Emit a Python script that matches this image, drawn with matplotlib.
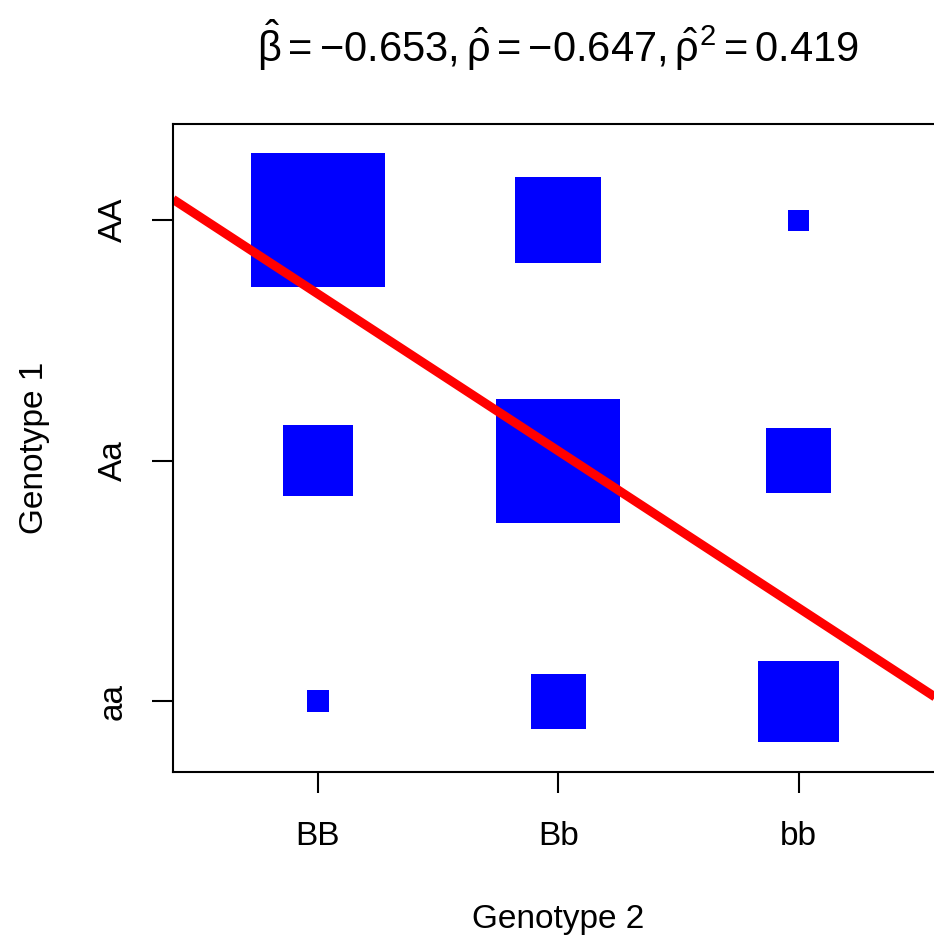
import matplotlib
matplotlib.use("Agg")
import matplotlib.pyplot as plt
from matplotlib.patches import Rectangle

plt.rcParams['font.family'] = ['Liberation Sans', 'DejaVu Sans']
plt.rcParams['mathtext.fontset'] = 'custom'
plt.rcParams['mathtext.rm'] = 'Liberation Sans'
plt.rcParams['mathtext.it'] = 'Liberation Sans'
plt.rcParams['mathtext.bf'] = 'Liberation Sans'

# genotype categories
geno2 = ['BB', 'Bb', 'bb']   # x axis
geno1 = ['aa', 'Aa', 'AA']   # y axis, bottom to top

# square side lengths (data units), rows follow geno1, columns geno2
side_aa = [0.091, 0.229, 0.337]
side_Aa = [0.295, 0.516, 0.270]
side_AA = [0.557, 0.358, 0.087]

# fitted line
beta = -0.653
intercept = 1.693

fig = plt.figure(figsize=(9.34, 9.39), dpi=100)
ax = fig.add_axes([173/934, 167/939, 770/934, 648/939])

rows = [side_aa, side_Aa, side_AA]
for yi, row in enumerate(rows):
    for xi, s in enumerate(row):
        ax.add_patch(Rectangle((xi - s/2, yi - s/2), s, s,
                               facecolor='#0000ff', edgecolor='none'))

ax.axline((0, intercept), slope=beta, color='#ff0000', lw=6.5,
          solid_capstyle='butt')

ax.set_xlim(-0.603, 2.6)
ax.set_ylim(-0.295, 2.4)

ax.set_xticks(range(3))
ax.set_xticklabels(geno2)
ax.set_yticks(range(3))
ax.set_yticklabels(geno1, rotation=90, va='center')

for sp in ax.spines.values():
    sp.set_linewidth(1.5)
ax.tick_params(axis='both', length=15, width=1.5, labelsize=24, pad=20)
ax.tick_params(axis='y', pad=17)

ax.set_xlabel('Genotype 2', fontsize=24, labelpad=38)
ax.set_ylabel('Genotype 1', fontsize=24, labelpad=34)

ax.set_title(r'$\hat{\beta}=-0.653, \hat{\rho}=-0.647, \hat{\rho}^2=0.419$',
             fontsize=30, pad=45)

fig.savefig('out.png', dpi=100)
